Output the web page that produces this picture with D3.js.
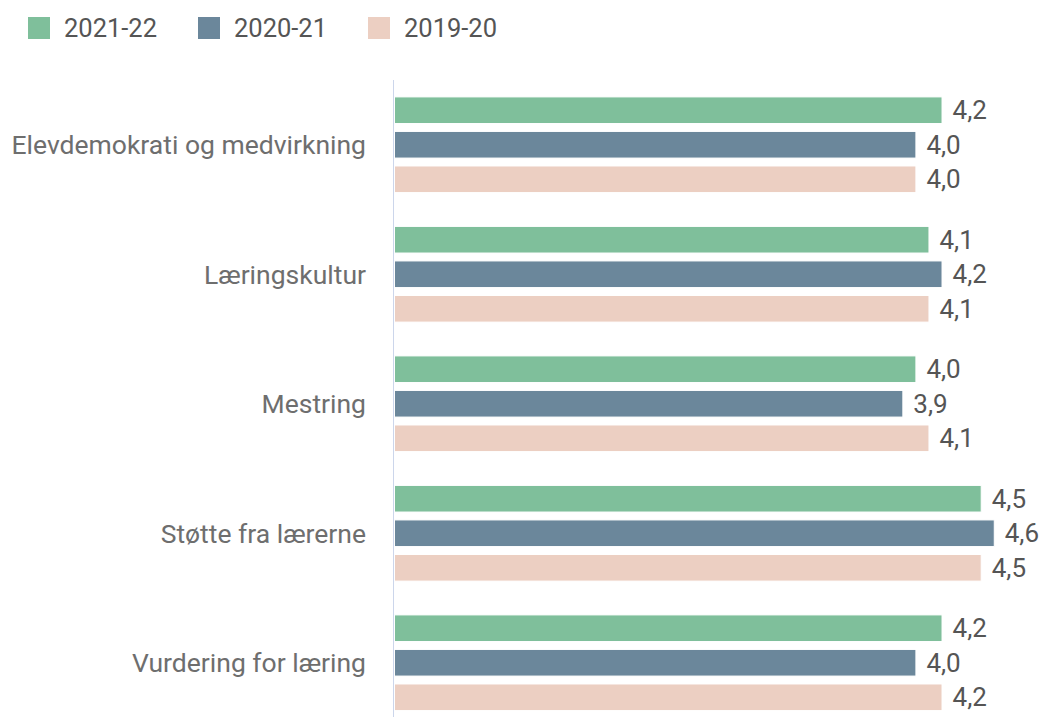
<!DOCTYPE html>
<html><head><meta charset="utf-8">
<script src="https://cdn.jsdelivr.net/npm/d3@7/dist/d3.min.js"></script>
<style>body{margin:0;background:#fff;}svg{display:block;font-family:Roboto,sans-serif;}</style>
</head><body>
<script>
const categories = ["Elevdemokrati og medvirkning","Læringskultur","Mestring","Støtte fra lærerne","Vurdering for læring"];
const seriesNames = ["2021-22","2020-21","2019-20"];
const values2122 = [4.2,4.1,4.0,4.5,4.2];
const values2021 = [4.0,4.2,3.9,4.6,4.0];
const values1920 = [4.0,4.1,4.1,4.5,4.2];
const colors = ["#7fbf9b","#6b879b","#eccfc2"];

const W=1042,H=717;
const svg=d3.select("body").append("svg").attr("width",W).attr("height",H);
const seriesVals=[values2122,values2021,values1920];

const x=d3.scaleLinear().domain([0,5]).range([394,1047]);
const y0=d3.scaleBand().domain(categories).range([80,727.5]);
const gp=y0.bandwidth()*0.1;
const y1=d3.scaleBand().domain(seriesNames).range([gp,y0.bandwidth()-gp]).paddingInner(0.2).paddingOuter(0.1);
const fmt=v=>d3.format(".1f")(v).replace(".",",");

// axis line
svg.append("line").attr("x1",x(0)-0.5).attr("x2",x(0)-0.5).attr("y1",80).attr("y2",727.5)
  .attr("stroke","#ccd6eb").attr("stroke-width",1);

const groups=svg.selectAll("g.cat").data(categories).join("g").attr("class","cat")
  .attr("transform",c=>`translate(0,${y0(c)})`);

seriesNames.forEach((s,si)=>{
  groups.append("rect")
    .attr("x",x(0)+0.5)
    .attr("y",(c)=>y1(s)+0.5)
    .attr("width",(c,i)=>x(seriesVals[si][i])-x(0)-1)
    .attr("height",y1.bandwidth()-1)
    .attr("fill",colors[si]).attr("stroke","#fff").attr("stroke-width",1);
  groups.append("text")
    .attr("x",(c,i)=>x(seriesVals[si][i])+10)
    .attr("y",y1(s)+y1.bandwidth()/2)
    .attr("dy","0.35em")
    .attr("font-size",26).attr("fill","#555")
    .text((c,i)=>fmt(seriesVals[si][i]));
});

// category labels
const yAxis=d3.axisLeft(y0).tickSize(0).tickPadding(0);
const ga=svg.append("g").attr("transform","translate(366,0)").call(yAxis);
ga.select(".domain").remove();
ga.selectAll("text").attr("font-size",26.5).attr("fill","#6e6e6e").attr("font-family","Roboto,sans-serif").attr("dy","0.35em");

// legend
const legX=[28,198,368];
const lg=svg.selectAll("g.leg").data(seriesNames).join("g").attr("class","leg")
  .attr("transform",(d,i)=>`translate(${legX[i]},17)`);
lg.append("rect").attr("width",22).attr("height",22).attr("fill",(d,i)=>colors[i]);
lg.append("text").attr("x",36).attr("y",11.5).attr("dy","0.35em").attr("font-size",25.5).attr("fill","#555").text(d=>d);
</script>
</body></html>
